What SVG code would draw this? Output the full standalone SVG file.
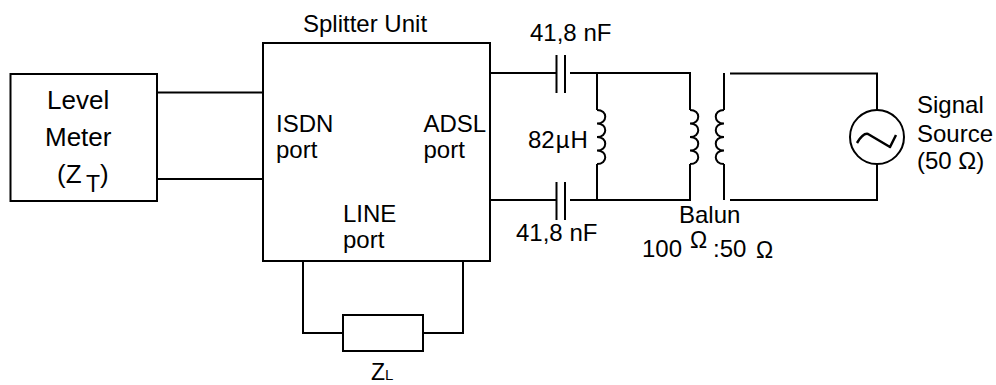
<svg xmlns="http://www.w3.org/2000/svg" width="996" height="385" viewBox="0 0 996 385">
<style>
.w{fill:none;stroke:#000;stroke-width:2}
.b{fill:#fff;stroke:#000;stroke-width:2}
text{font-family:"Liberation Sans",Arial,sans-serif;font-size:24px;fill:#000}
.m{font-size:26px}
.t{font-size:23px}
.o{font-size:23px}
.z{font-size:23px}
.s{font-size:15px}
</style>
<defs>
<path id="coilR" class="w" d="M0 0c11 0 11 13.500 0 13.500c11 0 11 13.500 0 13.500c11 0 11 13.500 0 13.500c11 0 11 13.500 0 13.500"/>
<path id="coilL" class="w" d="M0 0c-11 0 -11 13.500 0 13.500c-11 0 -11 13.500 0 13.500c-11 0 -11 13.500 0 13.500c-11 0 -11 13.500 0 13.500"/>
</defs>
<g id="connectors">
<path class="w" d="M157 92.500H263M157 179H263"/>
<path class="w" d="M490 73H556M570 73H690V110M490 200H556M570 200H690V164M597 73V110M597 164V200"/>
<path class="w" d="M556.500 55V93M565 55V93M556.500 182V220M565 182V220"/>
<path class="w" d="M724 73V110M724 164V200M730 73.500H877V110M730 200H877V164"/>
<path class="w" d="M303 261V333H343M463 261V333H423"/>
</g>
<g id="level-meter">
<rect class="b" x="10.500" y="74" width="146.500" height="127"/>
<text class="m" x="47" y="109">Level</text>
<text class="m" x="45" y="146">Meter</text>
<text class="m" x="57" y="183">(Z</text>
<text class="t" x="86" y="192">T</text>
<text class="m" x="100" y="183">)</text>
</g>
<g id="splitter-unit">
<rect class="b" x="263" y="43" width="227" height="218"/>
<text x="303" y="32">Splitter Unit</text>
<text x="276" y="131.500">ISDN</text>
<text x="276" y="157.500">port</text>
<text x="423.500" y="131.500">ADSL</text>
<text x="423.500" y="157.500">port</text>
<text x="343" y="222">LINE</text>
<text x="343" y="248">port</text>
</g>
<g id="c1"><text x="530" y="41">41,8 nF</text></g>
<g id="c2"><text x="516" y="241">41,8 nF</text></g>
<g id="l1">
<use href="#coilR" x="597" y="110"/>
<text x="528" y="148">82<tspan dx="1">µ</tspan><tspan dx="1">H</tspan></text>
</g>
<g id="balun">
<use href="#coilR" x="690" y="110"/>
<use href="#coilL" x="724" y="110"/>
<text x="679" y="223">Balun</text>
<text x="642" y="257">100</text>
<text class="o" x="690" y="248">Ω</text>
<text x="713" y="257">:50</text>
<text class="o" x="756" y="258">Ω</text>
</g>
<g id="signal-source">
<circle class="b" cx="877" cy="137" r="27"/>
<path class="w" style="stroke-width:2.500" d="M857 143C860 138 864 133 868 134L890 147L896 135" stroke-linejoin="round"/>
<text x="917" y="113">Signal</text>
<text x="917" y="142">Source</text>
<text x="917" y="169">(50 Ω)</text>
</g>
<g id="load">
<rect class="b" x="343" y="315" width="80" height="36"/>
<text class="z" x="371" y="380">Z<tspan class="s">L</tspan></text>
</g>
</svg>
